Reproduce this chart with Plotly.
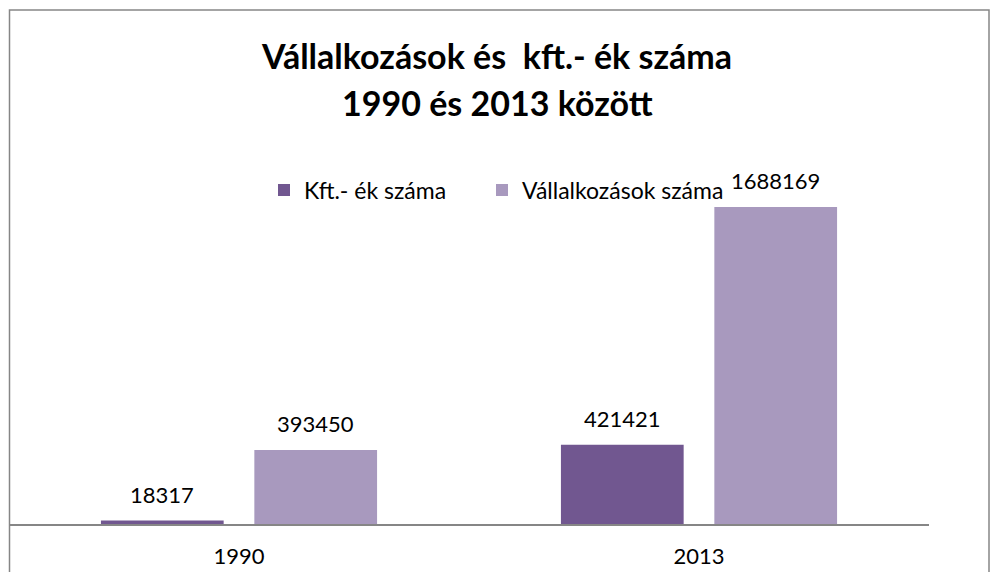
import plotly.graph_objects as go

categories = ["1990", "2013"]
kft_values = [18317, 421421]
vall_values = [393450, 1688169]
series_names = ["Kft.- ék száma", "Vállalkozások száma"]
title_line1 = "Vállalkozások és  kft.- ék száma"
title_line2 = "1990 és 2013 között"

DARK = "#715790"
LIGHT = "#A899BE"
FONT = "Lato"
TXT = 22

W, H = 994, 572
L, R, T, B = 9, 65, 140, 48
plot_w = W - L - R
plot_h = H - T - B
ymax = 2045000
BARGAP = 0.333

fig = go.Figure()
fig.add_trace(go.Bar(x=categories, y=kft_values, name=series_names[0],
                     legend="legend", showlegend=True,
                     marker=dict(color=DARK, line=dict(width=0))))
fig.add_trace(go.Bar(x=categories, y=vall_values, name=series_names[1],
                     legend="legend2", showlegend=True,
                     marker=dict(color=LIGHT, line=dict(width=0))))

# data labels above bars (x given as category index)
slot_shift = plot_w / len(categories) * (1 - BARGAP) / 4
for vals, sgn in ((kft_values, -1), (vall_values, 1)):
    for i, v in enumerate(vals):
        fig.add_annotation(x=i, y=v, text=str(v), showarrow=False,
                           xref="x", yref="y", yanchor="bottom",
                           xshift=sgn * slot_shift, yshift=11,
                           font=dict(family=FONT, size=TXT, color="#000000"))

fig.add_annotation(text=title_line2, xref="paper", yref="paper",
                   x=(W / 2 - L) / plot_w, y=(H - B - 102) / plot_h,
                   yanchor="middle", xanchor="center", showarrow=False,
                   font=dict(family=FONT, size=34, color="#000000", weight="bold"))

# chart border
fig.add_shape(type="rect", xref="paper", yref="paper",
              x0=0.5 / plot_w, x1=(989 - L) / plot_w,
              y0=-0.3, y1=(H - B - 10) / plot_h,
              line=dict(color="#868686", width=1.5), layer="below")

legend_common = dict(orientation="h", xanchor="left", yanchor="middle",
                     y=(H - B - 190) / plot_h, visible=True,
                     font=dict(family=FONT, size=23, color="#000000"),
                     bgcolor="rgba(0,0,0,0)", itemclick=False)

fig.update_layout(
    width=W, height=H,
    showlegend=True,
    margin=dict(l=L, r=R, t=T, b=B, autoexpand=False),
    paper_bgcolor="white", plot_bgcolor="white",
    barmode="group", bargap=BARGAP, bargroupgap=0.2,
    title=dict(text=title_line1, x=(W / 2) / W, xanchor="center",
               y=1 - 57 / H, yanchor="middle", automargin=False,
               font=dict(family=FONT, size=34, color="#000000", weight="bold")),
    legend=dict(x=(264 - L) / plot_w, **legend_common),
    legend2=dict(x=(482 - L) / plot_w, **legend_common),
    xaxis=dict(type="category", range=[-0.5, len(categories) - 0.5],
               showline=True, linecolor="#868686", linewidth=2,
               showgrid=False, ticks="", ticklabelstandoff=12, automargin=False,
               tickfont=dict(family=FONT, size=TXT, color="#000000")),
    yaxis=dict(range=[0, ymax], visible=False, showgrid=False, zeroline=False,
               automargin=False),
)

fig.write_html("out.html", config={"displayModeBar": False},
               post_script="document.body.style.margin='0';document.body.style.overflow='hidden';")
